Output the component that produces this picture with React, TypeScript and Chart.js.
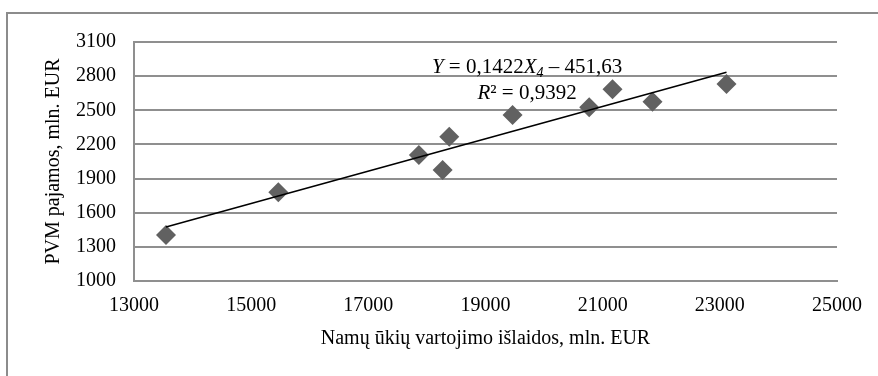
import React, { useEffect, useRef } from 'react';
import { Chart, registerables } from 'chart.js';

Chart.register(...registerables);

// Data
const consumption = [13546, 15463, 17863, 18268, 18381, 19462, 20770, 21168, 21851, 23114];
const vatRevenue = [1404, 1780, 2107, 1975, 2268, 2459, 2526, 2684, 2576, 2731];
const trendX = [13546, 23114];
const trendY = [1475, 2835];
const xTicks = [13000, 15000, 17000, 19000, 21000, 23000, 25000];
const yTicks = [1000, 1300, 1600, 1900, 2200, 2500, 2800, 3100];
const xTitle = 'Namų ūkių vartojimo išlaidos, mln. EUR';
const yTitle = 'PVM pajamos, mln. EUR';
const eqSlope = '0,1422';
const eqIntercept = '451,63';
const rSquared = '0,9392';

const FONT = '"Liberation Serif", "Times New Roman", serif';
const GRID = '#8f8f8f';

const equationPlugin = {
  id: 'equation',
  afterDatasetsDraw(chart: any) {
    const { ctx, scales } = chart;
    const cx = scales.x.getPixelForValue(19710);
    const base1 = scales.y.getPixelForValue(2830);
    const base2 = base1 + 26;
    const draw = (parts: { t: string; it?: boolean; sub?: boolean }[], baseY: number) => {
      const fontOf = (p: any) => `${p.it ? 'italic ' : ''}${p.sub ? 14 : 21}px ${FONT}`;
      let total = 0;
      for (const p of parts) {
        ctx.font = fontOf(p);
        total += ctx.measureText(p.t).width;
      }
      let x = cx - total / 2;
      ctx.save();
      ctx.fillStyle = '#000';
      ctx.textBaseline = 'alphabetic';
      ctx.textAlign = 'left';
      for (const p of parts) {
        ctx.font = fontOf(p);
        ctx.fillText(p.t, x, baseY + (p.sub ? 4 : 0));
        x += ctx.measureText(p.t).width;
      }
      ctx.restore();
    };
    draw(
      [
        { t: 'Y', it: true },
        { t: ` = ${eqSlope}` },
        { t: 'X', it: true },
        { t: '4', it: true, sub: true },
        { t: ` – ${eqIntercept}` },
      ],
      base1
    );
    draw([{ t: 'R', it: true }, { t: `² = ${rSquared}` }], base2);
  },
};

export default function App() {
  const ref = useRef<HTMLCanvasElement>(null);
  useEffect(() => {
    if (!ref.current) return;
    const points = consumption.map((x, i) => ({ x, y: vatRevenue[i] }));
    const trend = trendX.map((x, i) => ({ x, y: trendY[i] }));
    const chart = new Chart(ref.current, {
      type: 'scatter',
      data: {
        datasets: [
          {
            type: 'line',
            data: trend,
            borderColor: '#000',
            borderWidth: 1.6,
            pointRadius: 0,
            fill: false,
            showLine: true,
          } as any,
          {
            data: points,
            pointStyle: 'rectRot',
            pointRadius: 10,
            backgroundColor: '#616161',
            borderColor: '#616161',
            borderWidth: 0,
          },
        ],
      },
      options: {
        animation: false,
        responsive: false,
        devicePixelRatio: 1,
        layout: { padding: { top: 42, right: 41, bottom: 0, left: 0 } },
        plugins: { legend: { display: false }, tooltip: { enabled: false } },
        scales: {
          x: {
            type: 'linear',
            min: 13000,
            max: 25000,
            afterBuildTicks: (s: any) => {
              s.ticks = xTicks.map((v) => ({ value: v }));
            },
            afterFit: (s: any) => {
              s.height = 95;
            },
            ticks: {
              font: { family: FONT, size: 20 },
              color: '#000',
              padding: 13,
              maxRotation: 0,
              autoSkip: false,
              callback: (v: any) => String(v),
            },
            grid: { drawOnChartArea: false, drawTicks: false, color: GRID, lineWidth: 2 },
            border: { display: true, color: GRID, width: 2 },
            title: {
              display: true,
              text: xTitle,
              font: { family: FONT, size: 20 },
              color: '#000',
              padding: { top: 0, bottom: 25 },
            },
          },
          y: {
            type: 'linear',
            min: 1000,
            max: 3100,
            afterBuildTicks: (s: any) => {
              s.ticks = yTicks.map((v) => ({ value: v }));
            },
            afterFit: (s: any) => {
              s.width = 134;
            },
            ticks: {
              font: { family: FONT, size: 20 },
              color: '#000',
              padding: 18,
              autoSkip: false,
              callback: (v: any) => String(v),
            },
            grid: { color: GRID, lineWidth: 2, drawTicks: false },
            border: { display: true, color: GRID, width: 2 },
            title: {
              display: true,
              text: yTitle,
              font: { family: FONT, size: 20 },
              color: '#000',
              padding: { top: 42, bottom: 0 },
            },
          },
        },
      },
      plugins: [equationPlugin],
    });
    return () => chart.destroy();
  }, []);

  return (
    <div style={{ position: 'fixed', left: 0, top: 0, width: 878, height: 376, overflow: 'hidden', background: '#fff' }}>
      <div
        style={{
          position: 'absolute',
          left: 6,
          top: 12,
          width: 900,
          height: 400,
          borderLeft: '2px solid #8c8c8c',
          borderTop: '2px solid #8c8c8c',
        }}
      />
      <canvas ref={ref} width={878} height={376} style={{ position: 'absolute', left: 0, top: 0, width: 878, height: 376 }} />
    </div>
  );
}
